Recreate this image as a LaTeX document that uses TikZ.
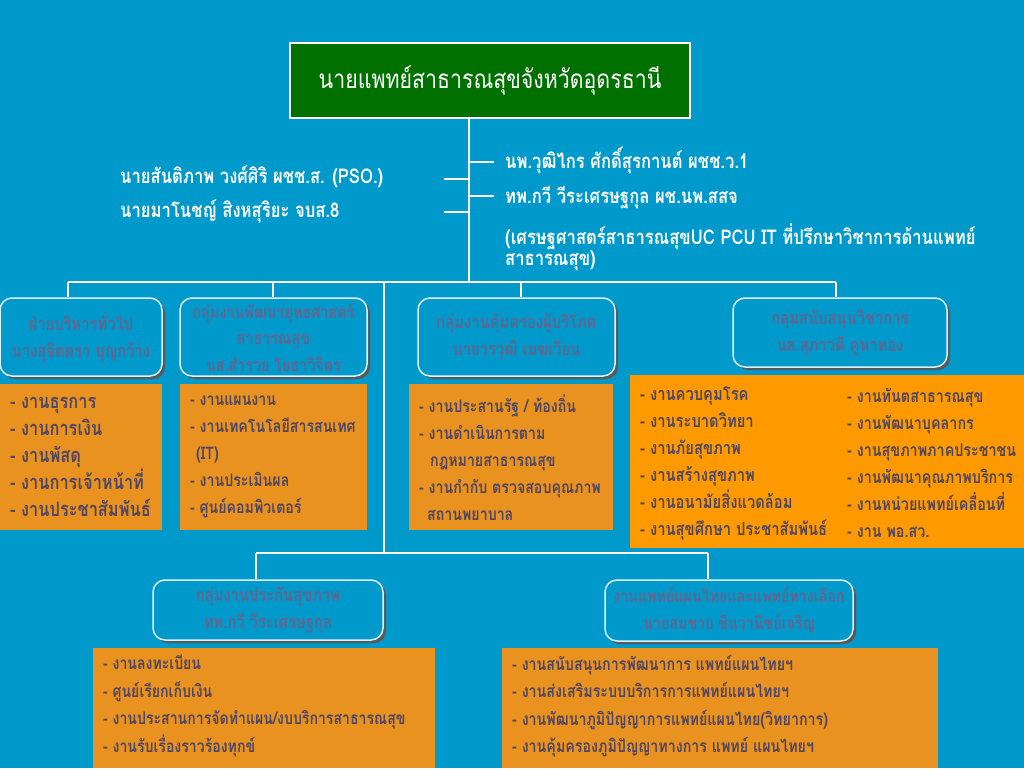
\documentclass[tikz,border=0pt]{standalone}
\usepackage{fontspec}
\newfontfamily\thai[Script=Thai,FakeStretch=0.82]{Loma}
\usetikzlibrary{shadows}
\definecolor{bg}{RGB}{0,153,204}
\definecolor{dkgreen}{RGB}{0,112,0}
\definecolor{org}{RGB}{234,146,32}
\definecolor{orgb}{RGB}{255,153,0}
\definecolor{hdtext}{RGB}{98,102,142}
\definecolor{lstext}{RGB}{78,70,98}
\definecolor{rim}{RGB}{220,242,250}
\begin{document}
\begin{tikzpicture}[x=1pt,y=-1pt,
 conn/.style={draw=white, line width=1.3pt},
 hdbox/.style={rounded corners=12pt, fill=bg, draw=rim, line width=1.5pt, text=hdtext, align=center, inner sep=0pt,
   font=\thai\bfseries\fontsize{18}{27}\selectfont,
   drop shadow={shadow xshift=3pt, shadow yshift=-3pt, fill=black!65, opacity=1}},
 obox/.style={fill=org, draw=none, inner sep=0pt},
 ltxt/.style={anchor=west, text=lstext, align=left, inner sep=0pt, font=\thai\bfseries\fontsize{18}{27}\selectfont},
 midl/.style={ltxt, font=\thai\bfseries\fontsize{17.3}{27}\selectfont},
 bigl/.style={ltxt, font=\thai\bfseries\fontsize{20}{27}\selectfont},
 wtxt/.style={anchor=west, text=white, align=left, inner sep=0pt, font=\thai\bfseries\fontsize{20.3}{21}\selectfont}
]
\fill[bg] (0,0) rectangle (1024,768);
\useasboundingbox (0,0) rectangle (1024,768);

% top box
\node[draw=white, line width=1.3pt, fill=dkgreen, minimum width=400pt, minimum height=75pt, inner sep=0pt,
  text=white, font=\thai\fontsize{26}{30}\selectfont] (main) at (490,80.5) {นายแพทย์สาธารณสุขจังหวัดอุดรธานี};

% connectors
\coordinate (mv) at (469,282);
\coordinate (t1) at (68,282);
\coordinate (t2) at (273,282);
\coordinate (lv) at (384,282);
\coordinate (t3) at (521,282);
\coordinate (t4) at (836,282);
\coordinate (lb) at (384,553);
\coordinate (bl) at (256,553);
\coordinate (br) at (708,553);
\draw[conn] (main.south -| mv) -- (mv);
\draw[conn] (t1) -- (t4);
\draw[conn] (lv) -- (lb);
\draw[conn] (bl) -- (br);

% ticks
\coordinate (k1) at (469,179); \coordinate (k1e) at (444,179);
\coordinate (k2) at (469,212); \coordinate (k2e) at (444,212);
\coordinate (k3) at (469,162); \coordinate (k3e) at (494,162);
\coordinate (k4) at (469,196); \coordinate (k4e) at (494,196);
\draw[conn] (k1) -- (k1e);
\draw[conn] (k2) -- (k2e);
\draw[conn] (k3) -- (k3e);
\draw[conn] (k4) -- (k4e);

% top texts
\node[wtxt] (p1) at (120,177) {นายสันติภาพ  วงศ์ศิริ  ผชช.ส. (PSO.)};
\node[wtxt] (p2) at (120,211) {นายมาโนชญ์  สิงหสุริยะ  จบส.8};
\node[wtxt] (p3) at (505,160) {นพ.วุฒิไกร  ศักดิ์สุรกานต์  ผชช.ว.1};
\node[wtxt] (p4) at (505,198) {ทพ.กวี  วีระเศรษฐกุล  ผช.นพ.สสจ};
\node[wtxt] (p5) at (505,247.5) {(เศรษฐศาสตร์สาธารณสุขUC  PCU  IT  ที่ปรึกษาวิชาการด้านแพทย์\\สาธารณสุข)};

% level 1 boxes
\node[hdbox, minimum width=162pt, minimum height=78pt] (b1) at (81,337) {ฝ่ายบริหารทั่วไป\\นางสุจิตตรา บุญกว้าง};
\node[hdbox, minimum width=187pt, minimum height=78pt, font=\thai\bfseries\fontsize{17.5}{26.5}\selectfont] (b2) at (273.5,337) {กลุ่มงานพัฒนายุทธศาสตร์\\สาธารณสุข\\นส.สำรวย  โยธาวิจิตร};
\node[hdbox, minimum width=197pt, minimum height=78pt] (b3) at (516.5,337) {กลุ่มงานคุ้มครองผู้บริโภค\\นายวรวุฒิ  เมฆเวียน};
\node[hdbox, minimum width=214pt, minimum height=69pt] (b4) at (840,332.5) {กลุ่มสนับสนุนวิชาการ\\นส.สุภาวดี  คูหาทอง};

\draw[conn] (t1) -- (t1 |- b1.north);
\draw[conn] (t2) -- (t2 |- b2.north);
\draw[conn] (t3) -- (t3 |- b3.north);
\draw[conn] (t4) -- (t4 |- b4.north);

% lists level 1
\node[obox, minimum width=162pt, minimum height=146pt] (o1) at (81,457) {};
\node[bigl] (o1t) at (10,457) {- งานธุรการ\\- งานการเงิน\\- งานพัสดุ\\- งานการเจ้าหน้าที่\\- งานประชาสัมพันธ์};
\node[obox, minimum width=187pt, minimum height=146pt] (o2) at (273.5,457) {};
\node[midl] (o2t) at (190,457) {- งานแผนงาน\\- งานเทคโนโลยีสารสนเทศ\\\hspace*{6pt}(IT)\\- งานประเมินผล\\- ศูนย์คอมพิวเตอร์};
\node[obox, minimum width=204pt, minimum height=146pt] (o3) at (511,457) {};
\node[midl] (o3t) at (419,458) {- งานประสานรัฐ / ท้องถิ่น\\- งานดำเนินการตาม\\\hspace*{11pt}กฎหมายสาธารณสุข\\- งานกำกับ ตรวจสอบคุณภาพ\\\hspace*{8pt}สถานพยาบาล};
\node[fill=orgb, minimum width=394pt, minimum height=173pt, inner sep=0pt] (o4) at (827,461.5) {};
\node[ltxt] (o4a) at (640,463) {- งานควบคุมโรค\\- งานระบาดวิทยา\\- งานภัยสุขภาพ\\- งานสร้างสุขภาพ\\- งานอนามัยสิ่งแวดล้อม\\- งานสุขศึกษา ประชาสัมพันธ์};
\node[ltxt, font=\thai\bfseries\fontsize{17.5}{27}\selectfont] (o4b) at (847,463) {- งานทันตสาธารณสุข\\- งานพัฒนาบุคลากร\\- งานสุขภาพภาคประชาชน\\- งานพัฒนาคุณภาพบริการ\\- งานหน่วยแพทย์เคลื่อนที่\\- งาน  พอ.สว.};

% level 2 boxes
\node[hdbox, minimum width=230pt, minimum height=60pt] (l1) at (268,610) {กลุ่มงานประกันสุขภาพ\\ทพ.กวี  วีระเศรษฐกุล};
\node[hdbox, minimum width=248pt, minimum height=61pt, font=\thai\bfseries\fontsize{17.4}{27}\selectfont] (l2) at (729,610.5) {งานแพทย์แผนไทยและแพทย์ทางเลือก\\นายสมชาย  ชินวานิชย์เจริญ};
\draw[conn] (bl) -- (bl |- l1.north);
\draw[conn] (br) -- (br |- l2.north);

\node[obox, minimum width=342pt, minimum height=120pt] (o5) at (264,708) {};
\node[ltxt, font=\thai\bfseries\fontsize{17.2}{27.5}\selectfont] (o5t) at (103,706) {- งานลงทะเบียน\\- ศูนย์เรียกเก็บเงิน\\- งานประสานการจัดทำแผน/งบบริการสาธารณสุข\\- งานรับเรื่องราวร้องทุกข์};
\node[obox, minimum width=436pt, minimum height=120pt] (o6) at (720,708) {};
\node[ltxt, font=\thai\bfseries\fontsize{17.4}{27.5}\selectfont] (o6t) at (512,706) {- งานสนับสนุนการพัฒนาการ  แพทย์แผนไทยฯ\\- งานส่งเสริมระบบบริการการแพทย์แผนไทยฯ\\- งานพัฒนาภูมิปัญญาการแพทย์แผนไทย(วิทยาการ)\\- งานคุ้มครองภูมิปัญญาทางการ แพทย์ แผนไทยฯ};
\end{tikzpicture}
\end{document}
